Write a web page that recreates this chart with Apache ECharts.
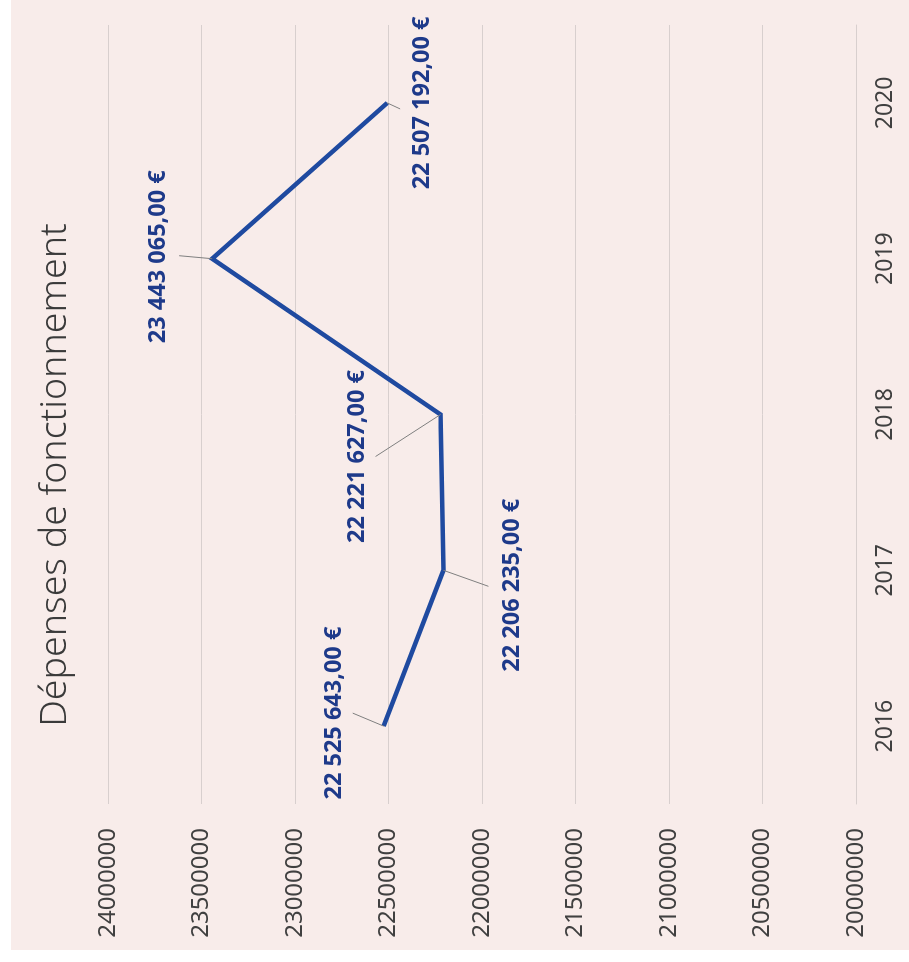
<!DOCTYPE html>
<html>
<head>
<meta charset="utf-8">
<script src="https://cdn.jsdelivr.net/npm/echarts@6/dist/echarts.min.js"></script>
<style>
  html, body { margin: 0; padding: 0; background: #ffffff; overflow: hidden; }
  /* The chart is laid out landscape (962 x 909) and turned a quarter turn to the left */
  #frame {
    position: absolute; left: 0; top: 0;
    width: 962px; height: 909px;
    background: #ffffff;
    transform-origin: 0 0;
    transform: translate(0, 962px) rotate(-90deg);
  }
  #chart {
    position: absolute; left: 12px; top: 11px;
    width: 950px; height: 898px;
    background: #f8ecea;
  }
</style>
</head>
<body>
<div id="frame"><div id="chart"></div></div>
<script>
// Operating expenses per year
const years = ['2016', '2017', '2018', '2019', '2020'];
const expenses = [22525643, 22206235, 22221627, 23443065, 22507192];
// Value axis range
const axisMin = 20000000;
const axisMax = 24000000;
const axisStep = 500000;

// Data label placement around each point (px, relative to the point)
const labelOffsets = [[13, -49], [-15, 69], [-42, -83], [2, -54], [0, 35]];
// Leader line from the point towards its label (px, relative to the point)
const leaderEnds = [[13, -31], [-16, 45], [-42, -65], [3, -33], [-6, 13]];

function euro(v) {
  const s = Math.round(v).toString().replace(/\B(?=(\d{3})+(?!\d))/g, ' ');
  return s + ',00 €';
}

const chart = echarts.init(document.getElementById('chart'), null, { renderer: 'canvas' });

chart.setOption({
  animation: false,
  backgroundColor: 'transparent',
  title: {
    text: 'Dépenses de fonctionnement',
    left: 'center',
    top: 20,
    textStyle: {
      fontFamily: 'Noto Sans',
      fontWeight: 300,
      fontSize: 37.5,
      color: '#3a3a3a'
    }
  },
  grid: { left: 146, right: 25, top: 97, bottom: 53, containLabel: false },
  xAxis: {
    type: 'category',
    data: years,
    boundaryGap: true,
    axisLine: { show: true, lineStyle: { color: '#d8cfce', width: 1 } },
    axisTick: { show: false },
    axisLabel: {
      margin: 18,
      fontFamily: 'Noto Sans',
      fontSize: 23,
      color: '#404040'
    },
    splitLine: { show: false }
  },
  yAxis: {
    type: 'value',
    min: axisMin,
    max: axisMax,
    interval: axisStep,
    axisLine: { show: false },
    axisTick: { show: false },
    axisLabel: {
      margin: 24,
      fontFamily: 'Noto Sans',
      fontSize: 24,
      color: '#404040',
      formatter: v => String(v)
    },
    splitLine: { show: true, lineStyle: { color: '#d8cfce', width: 1 } }
  },
  series: [
    {
      type: 'line',
      data: expenses,
      showSymbol: false,
      lineStyle: { color: '#1f4aa0', width: 4.5, join: 'miter' },
      itemStyle: { color: '#1f4aa0' },
      z: 2
    },
    {
      // value labels with their leader lines
      type: 'custom',
      data: expenses.map((v, i) => [i, v]),
      clip: false,
      z: 3,
      renderItem: function (params, api) {
        const i = params.dataIndex;
        const p = api.coord([api.value(0), api.value(1)]);
        const off = labelOffsets[i];
        const lead = leaderEnds[i];
        return {
          type: 'group',
          children: [
            {
              type: 'line',
              shape: { x1: p[0], y1: p[1], x2: p[0] + lead[0], y2: p[1] + lead[1] },
              style: { stroke: '#7f7f7f', lineWidth: 1 }
            },
            {
              type: 'text',
              x: p[0] + off[0],
              y: p[1] + off[1],
              style: {
                text: euro(api.value(1)),
                fill: '#1e3a8a',
                font: 'bold 23.5px "Noto Sans"',
                align: 'center',
                verticalAlign: 'middle'
              }
            }
          ]
        };
      }
    }
  ]
});
</script>
</body>
</html>
